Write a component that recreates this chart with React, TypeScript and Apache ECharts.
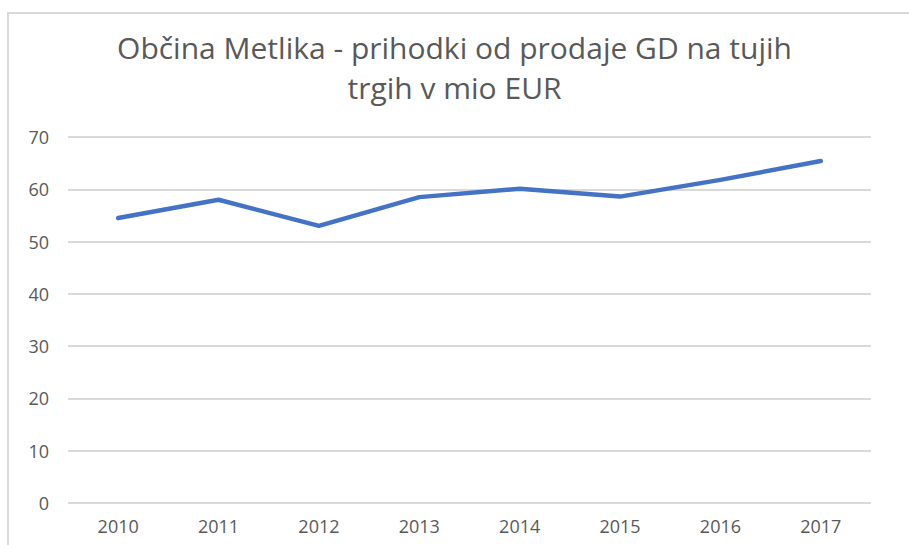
import React, { useEffect, useRef } from "react";
import * as echarts from "echarts";

const categories = ["2010", "2011", "2012", "2013", "2014", "2015", "2016", "2017"];
const values = [54.5, 58.0, 53.0, 58.5, 60.1, 58.6, 61.8, 65.4];
const titleText = "Občina Metlika - prihodki od prodaje GD na tujih\ntrgih v mio EUR";

export default function App() {
  const ref = useRef<HTMLDivElement>(null);
  useEffect(() => {
    if (!ref.current) return;
    const chart = echarts.init(ref.current, null, { renderer: "svg" });
    chart.setOption({
      animation: false,
      backgroundColor: "#ffffff",
      graphic: [
        {
          type: "rect",
          shape: { x: 8, y: 13, width: 1200, height: 1200 },
          style: { fill: "none", stroke: "#d9d9d9", lineWidth: 2 },
          silent: true,
        },
      ],
      title: {
        text: titleText,
        left: "center",
        top: 22,
        textStyle: {
          fontFamily: "Open Sans",
          fontSize: 30,
          fontWeight: "normal",
          color: "#595959",
          lineHeight: 40,
        },
      },
      grid: { left: 68, right: 38, top: 137, bottom: 42, containLabel: false },
      xAxis: {
        type: "category",
        data: categories,
        boundaryGap: true,
        axisLine: { show: false },
        axisTick: { show: false },
        axisLabel: { color: "#595959", fontSize: 18, fontFamily: "Open Sans", margin: 14 },
      },
      yAxis: {
        type: "value",
        min: 0,
        max: 70,
        interval: 10,
        axisLine: { show: false },
        axisTick: { show: false },
        splitLine: { lineStyle: { color: "#d9d9d9", width: 2 } },
        axisLabel: { color: "#595959", fontSize: 18, fontFamily: "Open Sans", margin: 19 },
      },
      series: [
        {
          type: "line",
          data: values,
          showSymbol: false,
          symbol: "none",
          lineStyle: { color: "#4472C4", width: 4.5, cap: "round", join: "round" },
        },
      ],
    });
    return () => chart.dispose();
  }, []);
  return (
    <div
      ref={ref}
      style={{ position: "fixed", left: 0, top: 0, width: 909, height: 545 }}
    />
  );
}
